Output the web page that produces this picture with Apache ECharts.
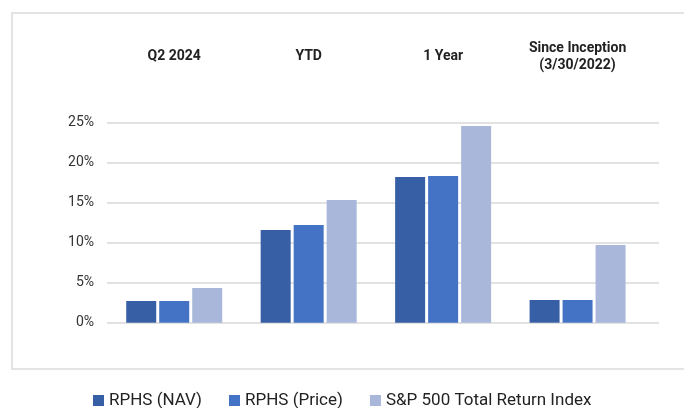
<!DOCTYPE html>
<html>
<head>
<meta charset="utf-8">
<script src="https://cdn.jsdelivr.net/npm/echarts@6/dist/echarts.min.js"></script>
<style>
  html, body { margin: 0; padding: 0; background: #fff; }
  #chart { width: 684px; height: 408px; }
</style>
</head>
<body>
<div id="chart"></div>
<script>
const categories = ["Q2 2024", "YTD", "1 Year", "Since Inception\n(3/30/2022)"];
const navValues = [2.71, 11.59, 18.21, 2.84];
const priceValues = [2.71, 12.21, 18.34, 2.84];
const spValues = [4.34, 15.34, 24.59, 9.71];
const seriesNames = ["RPHS (NAV)", "RPHS (Price)", "S&P 500 Total Return Index"];
const colors = ["#365fa5", "#4472c4", "#a9b7da"];

const chart = echarts.init(document.getElementById("chart"));

const options = {
  animation: false,
  color: colors,
  textStyle: { fontFamily: "Roboto" },
  graphic: [
    {
      type: "rect",
      shape: { x: 12, y: 13, width: 700, height: 356 },
      style: { fill: "none", stroke: "#dcdcdc", lineWidth: 1.5 },
      silent: true,
    },
  ],
  grid: [
    // grid lines + y labels
    { left: 107, right: 25, top: 122.7, bottom: 85.3 },
    // bars + category labels
    { left: 107, width: 537.8, top: 122.7, bottom: 85.3 },
  ],
  xAxis: [
    { gridIndex: 0, type: "category", data: categories, show: false },
    {
      gridIndex: 1,
      type: "category",
      data: categories,
      position: "top",
      axisLine: { show: false },
      axisTick: { show: false },
      axisLabel: {
        margin: 66,
        verticalAlign: "middle",
        lineHeight: 17,
        fontSize: 14,
        fontWeight: "bold",
        color: "#222",
        interval: 0,
      },
    },
  ],
  yAxis: [
    {
      gridIndex: 0,
      type: "value",
      min: 0,
      max: 25,
      interval: 5,
      axisLine: { show: false },
      axisTick: { show: false },
      axisLabel: {
        formatter: "{value}%",
        margin: 13,
        fontSize: 14,
        color: "#333",
      },
      splitLine: { lineStyle: { color: "#d9d9d9", width: 1.5 } },
    },
    {
      gridIndex: 1,
      type: "value",
      min: 0,
      max: 25,
      interval: 5,
      show: false,
      splitLine: { show: false },
    },
  ],
  legend: {
    left: 88,
    top: 387,
    itemWidth: 11,
    itemHeight: 11,
    itemGap: 27,
    icon: "rect",
    textStyle: { fontSize: 17, color: "#222" },
    data: seriesNames,
  },
  series: [
    {
      name: seriesNames[0],
      type: "bar",
      xAxisIndex: 1,
      yAxisIndex: 1,
      data: navValues,
      barWidth: 30,
      barGap: "10%",
    },
    {
      name: seriesNames[1],
      type: "bar",
      xAxisIndex: 1,
      yAxisIndex: 1,
      data: priceValues,
      barWidth: 30,
      barGap: "10%",
    },
    {
      name: seriesNames[2],
      type: "bar",
      xAxisIndex: 1,
      yAxisIndex: 1,
      data: spValues,
      barWidth: 30,
      barGap: "10%",
    },
  ],
};

chart.setOption(options);
</script>
</body>
</html>
